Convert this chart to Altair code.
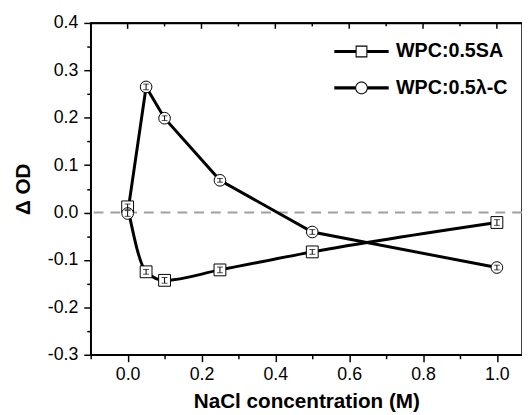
import math
import altair as alt
import pandas as pd

# ---- data ----
nacl = [0.0, 0.05, 0.1, 0.25, 0.5, 1.0]
sa_od = [0.012, -0.125, -0.143, -0.121, -0.083, -0.021]
sa_err = [0.006, 0.005, 0.006, 0.006, 0.005, 0.006]
lc_od = [-0.002, 0.265, 0.199, 0.068, -0.041, -0.116]
lc_err = [0.006, 0.006, 0.005, 0.004, 0.005, 0.005]
series_names = ["WPC:0.5SA", "WPC:0.5λ-C"]
x_major = [0.0, 0.2, 0.4, 0.6, 0.8, 1.0]
x_minor = [-0.1, 0.1, 0.3, 0.5, 0.7, 0.9]
y_major = [-0.3, -0.2, -0.1, 0.0, 0.1, 0.2, 0.3, 0.4]
y_minor = [-0.25, -0.15, -0.05, 0.05, 0.15, 0.25, 0.35]
zero_line = [0.0]
top_line = [0.4]

FONT = "Liberation Sans"
W, H = 438, 337

df_sa = pd.DataFrame({"x": nacl, "y": sa_od, "err": sa_err, "series": series_names[0]})
df_lc = pd.DataFrame({"x": nacl, "y": lc_od, "err": lc_err, "series": series_names[1]})
df_all = pd.concat([df_sa, df_lc], ignore_index=True)
df_all["lo"] = df_all["y"] - df_all["err"]
df_all["hi"] = df_all["y"] + df_all["err"]

xs = alt.Scale(domain=[-0.1, -0.1 + W / 375.0], nice=False, zero=False)
ys = alt.Scale(domain=[-0.3, 0.4], nice=False, zero=False)

label_expr = "replace(format(datum.value, '.1f'), '\u2212', '-')"

common = dict(tickColor="black", tickWidth=1.5, domainColor="black", domainWidth=1.5,
              grid=False, labelFont=FONT, titleFont=FONT, titleColor="black")

x_major_axis = alt.Axis(orient="bottom", values=x_major, labelExpr=label_expr, tickSize=7,
                        labelFontSize=18, labelPadding=4, labelFlush=False, labelColor="black",
                        title="NaCl concentration (M)", titleFontSize=21, titleFontWeight="bold",
                        titlePadding=8, **common)
x_minor_axis = alt.Axis(orient="bottom", values=x_minor, tickSize=4, labels=False, domain=False,
                        title=None, **common)
# top frame line as an axis (labels rendered invisible, white on white)
x_top_axis = alt.Axis(orient="top", values=x_major, ticks=False, labels=True, labelColor="white",
                      labelFontSize=8, domain=True, title=None, **common)
y_major_axis = alt.Axis(orient="left", values=y_major, labelExpr=label_expr, tickSize=7,
                        labelFontSize=18, labelPadding=6, labelFlush=False, labelColor="black",
                        title="Δ OD", titleFontSize=21, titleFontWeight="bold",
                        titlePadding=14, **common)
y_minor_axis = alt.Axis(orient="left", values=y_minor, tickSize=4, labels=False, domain=False,
                        title=None, **common)

zero = alt.Chart(pd.DataFrame({"y": zero_line})).mark_rule(
    color="#a0a0a0", strokeWidth=2, strokeDash=[10, 7]
).encode(y=alt.Y("y:Q", scale=ys, axis=y_minor_axis))

# top frame line (at the top of the y domain) with inward ticks
top_border = alt.Chart(pd.DataFrame({"y": top_line})).mark_rule(
    color="black", strokeWidth=1.5
).encode(y=alt.Y("y:Q", scale=ys, axis=None))
top_major = alt.Chart(pd.DataFrame({"t": x_major})).mark_rule(color="black", strokeWidth=1.5).encode(
    x=alt.X("t:Q", scale=xs, axis=None), y=alt.value(0), y2=alt.value(6))
top_minor = alt.Chart(pd.DataFrame({"t": x_minor})).mark_rule(color="black", strokeWidth=1.5).encode(
    x=alt.X("t:Q", scale=xs, axis=None), y=alt.value(0), y2=alt.value(3.5))

sa_line = alt.Chart(df_sa).mark_line(color="black", strokeWidth=3, interpolate="monotone").encode(
    x=alt.X("x:Q", scale=xs, axis=x_major_axis),
    y=alt.Y("y:Q", scale=ys, axis=y_major_axis),
)
lc_line = alt.Chart(df_lc).mark_line(color="black", strokeWidth=3).encode(
    x=alt.X("x:Q", scale=xs, axis=x_minor_axis),
    y=alt.Y("y:Q", scale=ys, axis=None),
)
sa_pts = alt.Chart(df_sa).mark_point(shape="square", filled=True, fill="white", stroke="black",
                                     strokeWidth=1, size=144, opacity=1).encode(
    x=alt.X("x:Q", scale=xs, axis=x_top_axis), y=alt.Y("y:Q", scale=ys, axis=None))
lc_pts = alt.Chart(df_lc).mark_point(shape="circle", filled=True, fill="white", stroke="black",
                                     strokeWidth=1, size=140, opacity=1).encode(
    x=alt.X("x:Q", scale=xs, axis=None), y=alt.Y("y:Q", scale=ys, axis=None))

err_rule = alt.Chart(df_all).mark_rule(color="black", strokeWidth=1).encode(
    x=alt.X("x:Q", scale=xs, axis=None),
    y=alt.Y("lo:Q", scale=ys, axis=None),
    y2="hi:Q",
)
err_caps = alt.Chart(df_all).transform_fold(["lo", "hi"], as_=["k", "v"]).mark_tick(
    orient="horizontal", color="black", thickness=1, size=6
).encode(
    x=alt.X("x:Q", scale=xs, axis=None),
    y=alt.Y("v:Q", scale=ys, axis=None),
)


def rect(x0, x1, h):
    return f"M{x0},{-h}H{x1}V{h}H{x0}Z"


def ring(r_out, r_in, n=40):
    pts_o = [(r_out * math.cos(2 * math.pi * i / n), r_out * math.sin(2 * math.pi * i / n)) for i in range(n)]
    pts_i = [(r_in * math.cos(-2 * math.pi * i / n), r_in * math.sin(-2 * math.pi * i / n)) for i in range(n)]
    p = "M" + "L".join(f"{a:.3f},{b:.3f}" for a, b in pts_o) + "Z"
    p += "M" + "L".join(f"{a:.3f},{b:.3f}" for a, b in pts_i) + "Z"
    return p


sq_path = rect(-4.6, -1, 0.27) + rect(1, 4.6, 0.27) + "M-1,-1H1V1H-1Z" + "M-0.82,-0.82V0.82H0.82V-0.82Z"
ci_path = rect(-4.6, -1.08, 0.27) + rect(1.08, 4.6, 0.27) + ring(1.08, 0.9)

legend_layer = alt.Chart(pd.DataFrame({"series": series_names})).transform_filter("false").mark_point(
    filled=True, color="black"
).encode(
    shape=alt.Shape("series:N", scale=alt.Scale(domain=series_names, range=[sq_path, ci_path]),
                    legend=alt.Legend(orient="none", legendX=265, legendY=19, title=None,
                                      symbolSize=144, symbolFillColor="black", symbolStrokeWidth=0,
                                      symbolOpacity=1, labelFont=FONT, labelFontSize=20,
                                      labelFontWeight="bold", labelColor="black", labelOffset=25,
                                      rowPadding=17, padding=0, labelLimit=300))
)

chart = alt.layer(
    zero, sa_line, lc_line, sa_pts, lc_pts, err_rule, err_caps, legend_layer,
    top_border, top_major, top_minor
).resolve_axis(x="independent", y="independent").properties(
    width=W, height=H,
    autosize=alt.AutoSizeParams(type="none"),
    padding={"left": 84, "top": 12, "right": 0, "bottom": 57},
    background="white",
).configure_view(stroke="black", strokeWidth=1.5)

chart.save("out.html", embed_options={"renderer": "svg", "actions": False})
